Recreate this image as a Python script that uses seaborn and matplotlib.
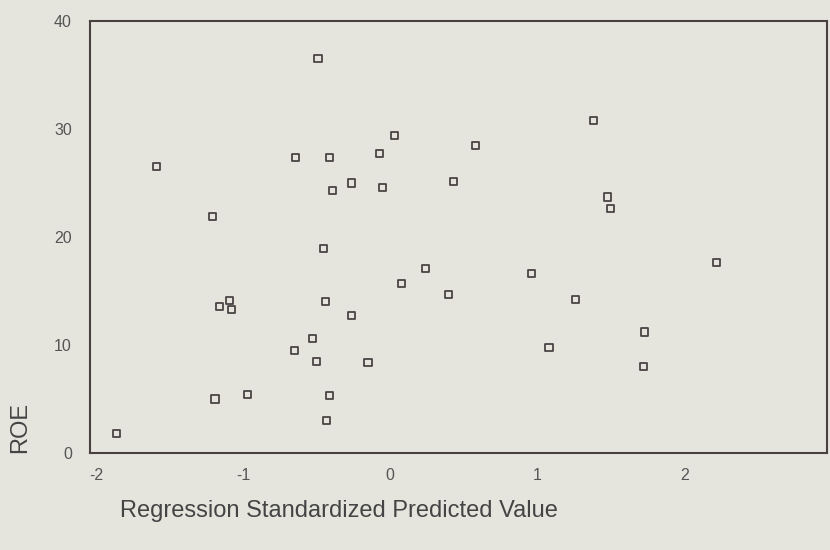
import matplotlib
matplotlib.use("Agg")
import matplotlib.pyplot as plt
import seaborn as sns
import pandas as pd

pred = [-1.86, -1.59, -1.21, -1.19, -1.16, -1.09, -1.08, -0.97, -0.65, -0.64,
        -0.49, -0.53, -0.50, -0.45, -0.44, -0.41, -0.43, -0.41, -0.39, -0.26,
        -0.26, -0.15, -0.07, -0.05, 0.03, 0.08, 0.24, 0.40, 0.43, 0.58,
        0.96, 1.08, 1.26, 1.38, 1.48, 1.50, 1.72, 1.73, 2.22]
roe = [1.8, 26.5, 21.9, 5.0, 13.6, 14.1, 13.3, 5.4, 9.5, 27.4,
       36.5, 10.6, 8.5, 18.9, 14.0, 5.3, 3.0, 27.4, 24.3, 25.0,
       12.7, 8.4, 27.7, 24.6, 29.4, 15.7, 17.1, 14.7, 25.1, 28.5,
       16.6, 9.8, 14.2, 30.8, 23.7, 22.6, 8.0, 11.2, 17.6]
xticks = [-2, -1, 0, 1, 2]
yticks = [0, 10, 20, 30, 40]

df = pd.DataFrame({"x": pred, "y": roe})

sns.set_style("white")
plt.rcParams["font.family"] = ["Liberation Sans", "DejaVu Sans"]

bg = "#e5e5de"
fig = plt.figure(figsize=(8.3, 5.5), dpi=100, facecolor=bg)
ax = fig.add_axes([90 / 830, 97 / 550, 737 / 830, 432 / 550])
ax.set_facecolor(bg)

sns.scatterplot(data=df, x="x", y="y", marker="s", s=26,
                facecolor="none", edgecolor="#4a4545", linewidth=1.3, ax=ax)

ax.set_xlim(-2.04, 2.97)
ax.set_ylim(0, 40)
ax.set_xticks(xticks)
ax.set_yticks(yticks)
ax.set_xticklabels([str(t) for t in xticks])
ax.set_yticklabels([str(t) for t in yticks])

for sp in ax.spines.values():
    sp.set_visible(True)
    sp.set_color("#4a4040")
    sp.set_linewidth(1.5)

ax.tick_params(axis="both", direction="inout", length=4, width=2,
               color="#4a4040", labelsize=11.5, labelcolor="#555555")
ax.tick_params(axis="x", pad=9)
ax.tick_params(axis="y", pad=11)

ax.set_xlabel("Regression Standardized Predicted Value", fontsize=17,
              color="#444444", loc="left")
ax.xaxis.set_label_coords(30 / 737, -47 / 432)
ax.set_ylabel("ROE", fontsize=17, color="#444444", loc="bottom")
ax.yaxis.set_label_coords(-59 / 737, 0)

fig.savefig("out.png", dpi=100, facecolor=bg)
